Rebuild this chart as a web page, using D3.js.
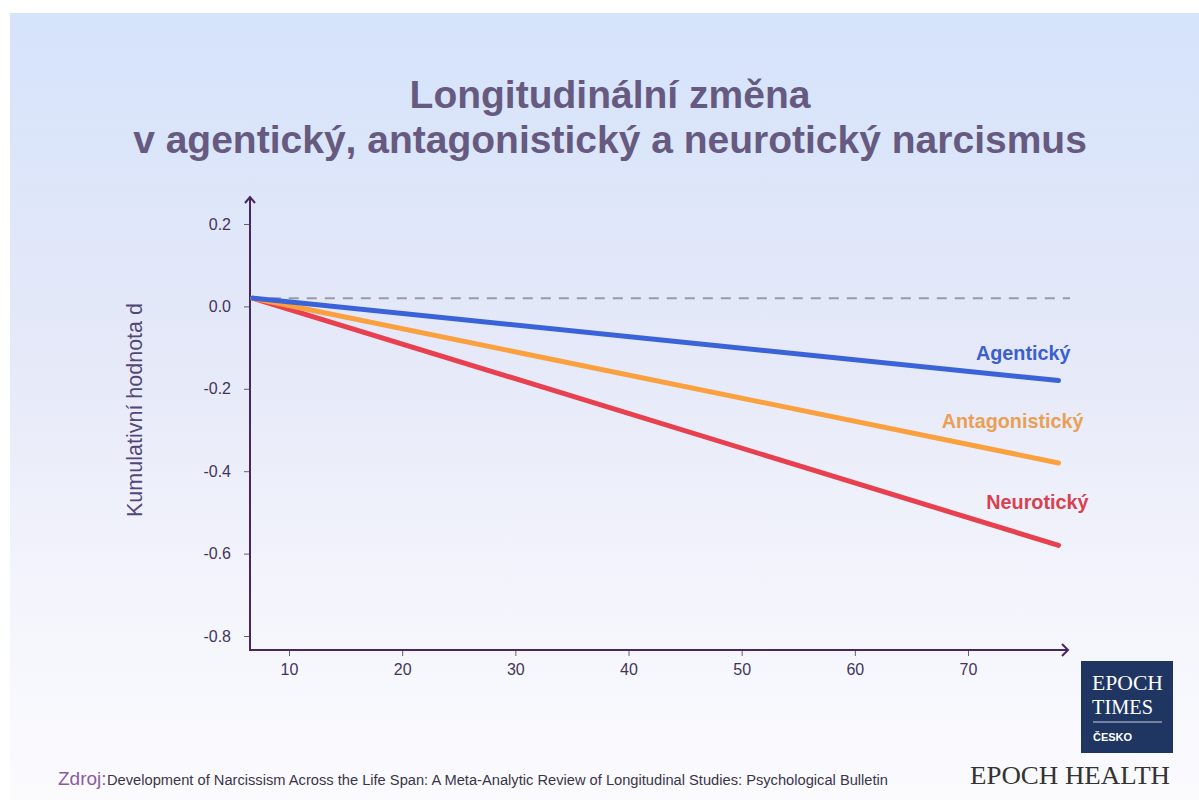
<!DOCTYPE html>
<html>
<head>
<meta charset="utf-8">
<script src="https://cdn.jsdelivr.net/npm/d3@7"></script>
<style>
  html, body { margin: 0; padding: 0; background: #fff; }
  svg { display: block; font-family: "Liberation Sans", Arial, sans-serif; }
</style>
</head>
<body>
<script>
// chart values
var titleLines = ["Longitudinální změna", "v agentický, antagonistický a neurotický narcismus"];
var ages = [6.8, 78];
var agentic = [0.02, -0.18];
var antagonistic = [0.02, -0.38];
var neurotic = [0.02, -0.58];
var seriesNames = ["Agentický", "Antagonistický", "Neurotický"];
var xTicks = [10, 20, 30, 40, 50, 60, 70];
var yTicks = [0.2, 0.0, -0.2, -0.4, -0.6, -0.8];
var baselineValue = 0.02;
var yTitle = "Kumulativní hodnota d";
var sourceLabel = "Zdroj:";
var sourceText = "Development of Narcissism Across the Life Span: A Meta-Analytic Review of Longitudinal Studies: Psychological Bulletin";

var width = 1199,
    height = 800;

var svg = d3.select("body").append("svg")
    .attr("width", width)
    .attr("height", height);

// background gradient
var defs = svg.append("defs");
var grad = defs.append("linearGradient")
    .attr("id", "bg")
    .attr("x1", 0).attr("y1", 0).attr("x2", 0).attr("y2", 1);
grad.append("stop").attr("offset", "0%").attr("stop-color", "#d5e3fb");
grad.append("stop").attr("offset", "45%").attr("stop-color", "#e6e9f8");
grad.append("stop").attr("offset", "75%").attr("stop-color", "#f4f5fc");
grad.append("stop").attr("offset", "100%").attr("stop-color", "#fbfbfe");

svg.append("rect")
    .attr("x", 10).attr("y", 13)
    .attr("width", width - 10).attr("height", height - 13)
    .attr("fill", "url(#bg)");

// title
svg.append("g").selectAll("text")
    .data(titleLines)
    .enter()
    .append("text")
    .attr("x", 610)
    .attr("y", function (d, i) { return 108 + i * 45; })
    .attr("text-anchor", "middle")
    .attr("font-size", 39)
    .attr("font-weight", "bold")
    .attr("fill", "#665a80")
    .text(function (d) { return d; });

// scales
var x = d3.scaleLinear().domain([10, 70]).range([289, 968]);
var y = d3.scaleLinear().domain([0.2, -0.8]).range([224, 636]);

var axisColor = "#4a2660";
var axisLeft = 250, axisBottom = 650;

// y axis
var yAxis = d3.axisLeft(y)
    .tickValues(yTicks)
    .tickSize(6)
    .tickPadding(13)
    .tickFormat(d3.format(".1f"));
var gy = svg.append("g")
    .attr("transform", "translate(" + axisLeft + ",0)")
    .call(yAxis);
gy.select(".domain").remove();
gy.selectAll(".tick line").attr("stroke", "#6a5a7a").attr("stroke-width", 1);
gy.selectAll(".tick text")
    .attr("font-size", 16)
    .attr("font-family", "Liberation Sans, Arial, sans-serif")
    .attr("fill", "#45345a")
    .text(function (d) { return d3.format(".1f")(d).replace("−", "-"); });

// x axis
var xAxis = d3.axisBottom(x)
    .tickValues(xTicks)
    .tickSize(6)
    .tickPadding(8);
var gx = svg.append("g")
    .attr("transform", "translate(0," + axisBottom + ")")
    .call(xAxis);
gx.select(".domain").remove();
gx.selectAll(".tick line").attr("stroke", "#6a5a7a").attr("stroke-width", 1);
gx.selectAll(".tick text")
    .attr("font-size", 16)
    .attr("font-family", "Liberation Sans, Arial, sans-serif")
    .attr("fill", "#45345a");

// axis lines with arrows
svg.append("path")
    .attr("d", "M" + axisLeft + "," + (axisBottom + 1) + "V197")
    .attr("stroke", axisColor).attr("stroke-width", 2).attr("fill", "none");
svg.append("path")
    .attr("d", "M" + (axisLeft - 5) + ",203L" + axisLeft + ",197L" + (axisLeft + 5) + ",203")
    .attr("stroke", axisColor).attr("stroke-width", 2).attr("fill", "none");
svg.append("path")
    .attr("d", "M" + (axisLeft - 1) + "," + axisBottom + "H1068")
    .attr("stroke", axisColor).attr("stroke-width", 2).attr("fill", "none");
svg.append("path")
    .attr("d", "M1062," + (axisBottom - 6) + "L1068," + axisBottom + "L1062," + (axisBottom + 6))
    .attr("stroke", axisColor).attr("stroke-width", 2).attr("fill", "none");

// y axis title
svg.append("text")
    .attr("transform", "translate(142,410) rotate(-90)")
    .attr("text-anchor", "middle")
    .attr("font-size", 21.5)
    .attr("fill", "#55467a")
    .text(yTitle);

// dashed reference line
svg.append("line")
    .attr("x1", x(ages[0])).attr("x2", 1070)
    .attr("y1", y(baselineValue)).attr("y2", y(baselineValue))
    .attr("stroke", "#9a9aa2")
    .attr("stroke-width", 2)
    .attr("stroke-dasharray", "10,8");

// series lines
var series = [
    { name: seriesNames[0], values: agentic, color: "#3a63d9", text: "#3a5fcf", dx: 12, dy: -21 },
    { name: seriesNames[1], values: antagonistic, color: "#fba03e", text: "#e9a055", dx: 25, dy: -35 },
    { name: seriesNames[2], values: neurotic, color: "#e8404e", text: "#d8414f", dx: 30, dy: -36 }
];

var line = d3.line()
    .x(function (d, i) { return x(ages[i]); })
    .y(function (d) { return y(d); });

// draw bottom-most first so blue stays on top
series.slice().reverse().forEach(function (s) {
    svg.append("path")
        .datum(s.values)
        .attr("d", line)
        .attr("fill", "none")
        .attr("stroke", s.color)
        .attr("stroke-width", 5)
        .attr("stroke-linecap", "round");
});

svg.append("g").selectAll("text")
    .data(series)
    .enter()
    .append("text")
    .attr("x", function (d) { return x(ages[1]) + d.dx; })
    .attr("y", function (d) { return y(d.values[1]) + d.dy; })
    .attr("text-anchor", "end")
    .attr("font-size", 19.8)
    .attr("font-weight", "bold")
    .attr("fill", function (d) { return d.text; })
    .text(function (d) { return d.name; });

// source
var src = svg.append("text")
    .attr("x", 58)
    .attr("y", 785)
    .attr("fill", "#3a3548");
src.append("tspan")
    .attr("font-size", 19)
    .attr("fill", "#8a5aa5")
    .text(sourceLabel);
src.append("tspan")
    .attr("x", 107)
    .attr("font-size", 14)
    .attr("font-family", "Liberation Sans Narrow, Liberation Sans, sans-serif")
    .attr("textLength", 781)
    .attr("lengthAdjust", "spacingAndGlyphs")
    .text(sourceText);

// logo
var logo = svg.append("g");
logo.append("rect")
    .attr("x", 1081).attr("y", 661)
    .attr("width", 92).attr("height", 92)
    .attr("fill", "#1f3562");
logo.append("text")
    .attr("x", 1092).attr("y", 690)
    .attr("font-family", "Liberation Serif, serif")
    .attr("font-size", 21)
    .attr("fill", "#fff")
    .attr("textLength", 71)
    .attr("lengthAdjust", "spacingAndGlyphs")
    .text("EPOCH");
logo.append("text")
    .attr("x", 1092).attr("y", 714)
    .attr("font-family", "Liberation Serif, serif")
    .attr("font-size", 21)
    .attr("fill", "#fff")
    .attr("textLength", 61)
    .attr("lengthAdjust", "spacingAndGlyphs")
    .text("TIMES");
logo.append("line")
    .attr("x1", 1093).attr("x2", 1162)
    .attr("y1", 722).attr("y2", 722)
    .attr("stroke", "#c8cfdc").attr("stroke-width", 1);
logo.append("text")
    .attr("x", 1093).attr("y", 741)
    .attr("font-size", 11)
    .attr("font-weight", "bold")
    .attr("fill", "#fff")
    .text("ČESKO");
svg.append("text")
    .attr("x", 970).attr("y", 784)
    .attr("font-family", "Liberation Serif, serif")
    .attr("font-size", 25)
    .attr("fill", "#333")
    .attr("textLength", 200)
    .attr("lengthAdjust", "spacingAndGlyphs")
    .text("EPOCH HEALTH");
</script>
</body>
</html>
